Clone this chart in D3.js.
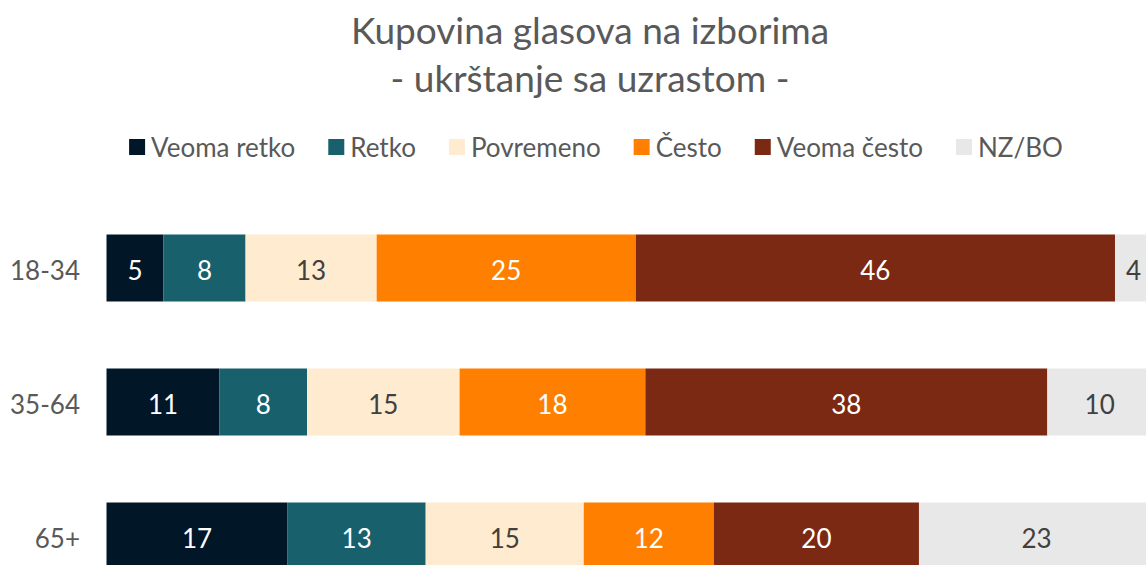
<!DOCTYPE html>
<html>
<head>
<meta charset="utf-8">
<script src="https://cdn.jsdelivr.net/npm/d3@7"></script>
<style>
  body { margin: 0; background: #fff; }
  text { font-family: Lato, "Open Sans", sans-serif; }
</style>
</head>
<body>
<div id="chart"></div>
<script>
var groups = ["18-34", "35-64", "65+"]
var series = ["Veoma retko", "Retko", "Povremeno", "Često", "Veoma često", "NZ/BO"]
var colors = ["#011627", "#17606c", "#ffebd0", "#ff8000", "#7b2912", "#e8e8e8"]
var labelColors = ["#fff", "#fff", "#404040", "#fff", "#fff", "#404040"]

// shares in % (labels show them rounded)
var veomaRetko = [5.45, 10.81, 17.32]
var retko = [7.85, 8.37, 13.21]
var povremeno = [12.54, 14.59, 15.12]
var cesto = [24.78, 17.77, 12.44]
var veomaCesto = [45.84, 38.45, 19.62]
var nzbo = [3.54, 10.01, 22.5]

var width = 1146, height = 565
var margin = {top: 201, left: 106.5}

var rows = groups.map(function(g, i) {
  return {
    group: g,
    "Veoma retko": veomaRetko[i],
    "Retko": retko[i],
    "Povremeno": povremeno[i],
    "Često": cesto[i],
    "Veoma često": veomaCesto[i],
    "NZ/BO": nzbo[i]
  }
})

var svg = d3.select("#chart").append("svg")
  .attr("width", width)
  .attr("height", height)

// title
svg.append("text")
  .attr("x", 590).attr("y", 44)
  .attr("text-anchor", "middle")
  .style("font-size", "37px").style("fill", "#595959")
  .text("Kupovina glasova na izborima")
svg.append("text")
  .attr("x", 590).attr("y", 92)
  .attr("text-anchor", "middle")
  .style("font-size", "37px").style("fill", "#595959")
  .text("- ukrštanje sa uzrastom -")

// legend
var legend = svg.append("g").attr("class", "legend")
var lx = 0
series.forEach(function(s, i) {
  var item = legend.append("g").attr("transform", "translate(" + lx + ",0)")
  item.append("rect")
    .attr("x", 0).attr("y", -8)
    .attr("width", 16).attr("height", 16)
    .style("fill", colors[i])
  var t = item.append("text")
    .attr("x", 22).attr("y", 0)
    .attr("dy", "0.38em")
    .style("font-size", "26px").style("fill", "#595959")
    .text(s)
  lx += 22 + t.node().getComputedTextLength() + 33
})
lx -= 33
legend.attr("transform", "translate(" + (596 - lx / 2) + ",147)")

var x = d3.scaleLinear()
  .domain([0, 100])
  .range([margin.left, 1152])

var y = d3.scaleBand()
  .domain(groups)
  .range([margin.top, margin.top + 3 * 134])
  .paddingInner(0.5)
  .paddingOuter(0.25)

var stacked = d3.stack().keys(series)(rows)

var layers = svg.append("g")
  .selectAll("g")
  .data(stacked)
  .join("g")
    .style("fill", function(d, i) { return colors[i] })

layers.selectAll("rect")
  .data(function(d) { return d })
  .join("rect")
    .attr("x", function(d) { return x(d[0]) })
    .attr("y", function(d) { return y(d.data.group) })
    .attr("width", function(d) { return x(d[1]) - x(d[0]) })
    .attr("height", y.bandwidth())

// value labels
stacked.forEach(function(layer, i) {
  svg.append("g")
    .selectAll("text")
    .data(layer)
    .join("text")
      .attr("x", function(d) { return (x(d[0]) + x(d[1])) / 2 })
      .attr("y", function(d) { return y(d.data.group) + y.bandwidth() / 2 + 3 })
      .attr("dy", "0.35em")
      .attr("text-anchor", "middle")
      .style("font-size", "26px")
      .style("fill", labelColors[i])
      .text(function(d) { return Math.round(d[1] - d[0]) })
})

// category labels
svg.append("g")
  .selectAll("text")
  .data(groups)
  .join("text")
    .attr("x", 80)
    .attr("y", function(d) { return y(d) + y.bandwidth() / 2 + 3 })
    .attr("dy", "0.35em")
    .attr("text-anchor", "end")
    .style("font-size", "26px")
    .style("fill", "#595959")
    .text(function(d) { return d })
</script>
</body>
</html>
